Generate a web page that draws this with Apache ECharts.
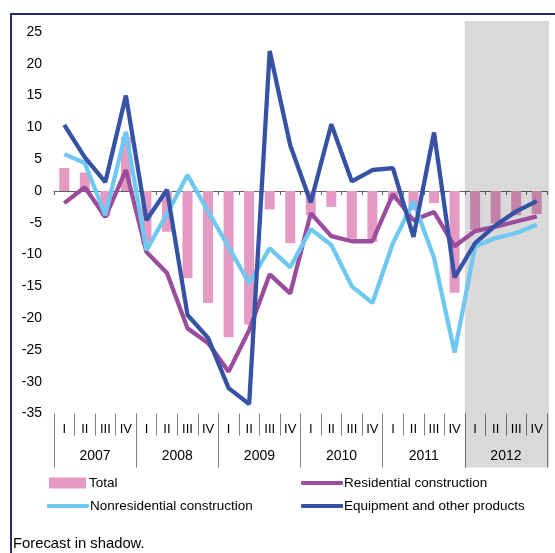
<!DOCTYPE html>
<html>
<head>
<meta charset="utf-8">
<script src="https://cdn.jsdelivr.net/npm/echarts@6/dist/echarts.min.js"></script>
<style>
html,body{margin:0;padding:0;background:#fff;}
#chart{width:555px;height:553px;}
</style>
</head>
<body>
<div id="chart"></div>
<script>
// ---- data ----
var quarters = ['I','II','III','IV','I','II','III','IV','I','II','III','IV','I','II','III','IV','I','II','III','IV','I','II','III','IV'];
var years = ['2007','2008','2009','2010','2011','2012'];
var yTicks = {min: -35, max: 25, interval: 5};
var total = [3.6, 2.9, -4.0, 8.5, -8.5, -6.4, -13.7, -17.6, -23.0, -21.0, -2.9, -8.2, -3.8, -2.5, -7.5, -8.0, -1.5, -3.0, -1.9, -16.0, -6.1, -5.1, -3.8, -3.6];
var residential = [-1.9, 0.6, -4.1, 3.3, -9.6, -12.9, -21.6, -23.9, -28.4, -21.9, -13.1, -16.1, -3.5, -7.1, -7.9, -7.9, -0.5, -4.6, -3.3, -8.7, -6.3, -5.6, -4.8, -4.0];
var nonresidential = [5.8, 4.4, -3.8, 9.3, -9.3, -3.6, 2.5, -3.2, -8.8, -14.5, -9.0, -12.0, -6.0, -8.5, -15.0, -17.6, -8.2, -1.7, -10.5, -25.4, -8.7, -7.4, -6.6, -5.3];
var equipment = [10.4, 5.3, 1.4, 15.0, -4.6, 0.2, -19.5, -23.1, -31.0, -33.5, 22.0, 7.2, -1.8, 10.5, 1.5, 3.3, 3.6, -7.2, 9.2, -13.6, -8.2, -5.4, -3.2, -1.6];
var forecastStart = 20; // first forecast quarter index (2012 I)
var names = ['Total','Residential construction','Nonresidential construction','Equipment and other products'];
var footnote = 'Forecast in shadow.';

var FONT = '"Liberation Sans", Arial, sans-serif';
var cats = quarters.map(function(q,i){ return years[Math.floor(i/4)] + ' ' + q; });

var chart = echarts.init(document.getElementById('chart'));
var GRID = {left: 54, top: 32, width: 493, height: 381.6};
var LEG_FS = 13.5;

function lineLegend(name, left, top) {
  return {data: [name], left: left, top: top, icon: 'roundRect', itemWidth: 42, itemHeight: 4, itemGap: 0,
    textStyle: {fontFamily: FONT, fontSize: LEG_FS, color: '#000', padding: [0,0,0,-4]}, padding: 0, selectedMode: false};
}

var option = {
  animation: false,
  backgroundColor: '#fff',
  grid: GRID,
  xAxis: [
    {type: 'category', data: cats, boundaryGap: true,
      axisLine: {onZero: true, lineStyle: {color: '#606060', width: 1}},
      axisTick: {show: true, length: 4, interval: 0, lineStyle: {color: '#606060'}},
      axisLabel: {show: false}, splitLine: {show: false}},
    {type: 'category', data: quarters.map(function(q,i){return i + '|' + q;}), position: 'bottom', boundaryGap: true,
      axisLine: {show: false, onZero: false},
      axisTick: {show: true, length: 22, interval: 0, lineStyle: {color: '#808080'}},
      axisLabel: {show: true, interval: 0, margin: 9, fontFamily: FONT, fontSize: 13, color: '#000',
        formatter: function(v){ return v.split('|')[1]; }},
      splitLine: {show: false}},
    {type: 'category', data: years, position: 'bottom', boundaryGap: true,
      axisLine: {show: false, onZero: false},
      axisTick: {show: true, length: 54, interval: 0, lineStyle: {color: '#808080'}},
      axisLabel: {show: true, interval: 0, margin: 36, fontFamily: FONT, fontSize: 14, color: '#000'},
      splitLine: {show: false}}
  ],
  yAxis: {type: 'value', min: yTicks.min, max: yTicks.max, interval: yTicks.interval,
    axisLine: {show: false}, axisTick: {show: false}, splitLine: {show: false},
    axisLabel: {margin: 12, fontFamily: FONT, fontSize: 14, color: '#000'}},
  legend: [
    {data: [names[0]], left: 49, top: 476, icon: 'rect', itemWidth: 37, itemHeight: 11, itemGap: 0, padding: 0, selectedMode: false,
      textStyle: {fontFamily: FONT, fontSize: LEG_FS, color: '#000', padding: [0,0,0,-2]}},
    lineLegend(names[1], 301, 476),
    lineLegend(names[2], 47, 499),
    lineLegend(names[3], 301, 499)
  ],
  series: [
    {name: names[0], type: 'bar', data: total, barWidth: 10, z: 1, itemStyle: {color: '#e59ac4'}},
    {name: names[1], type: 'line', data: residential, symbol: 'none', z: 5, lineStyle: {width: 4.3, color: '#9c4c9c'}, itemStyle: {color: '#9c4c9c'}},
    {name: names[2], type: 'line', data: nonresidential, symbol: 'none', z: 6, lineStyle: {width: 4.3, color: '#6ec8f0'}, itemStyle: {color: '#6ec8f0'}},
    {name: names[3], type: 'line', data: equipment, symbol: 'none', z: 7, lineStyle: {width: 4.3, color: '#3652a5'}, itemStyle: {color: '#3652a5'}}
  ]
};
chart.setOption(option);

// shadow over the forecast quarters, located through the category axis
var p0 = chart.convertToPixel({xAxisIndex: 0}, cats[forecastStart - 1]);
var p1 = chart.convertToPixel({xAxisIndex: 0}, cats[forecastStart]);
var pl = chart.convertToPixel({xAxisIndex: 0}, cats[cats.length - 1]);
var band = p1 - p0;
var x0 = (p0 + p1) / 2;
var x1 = pl + band / 2 + 2;
var yTop = chart.convertToPixel({yAxisIndex: 0}, yTicks.max) - 11;
var yBot = GRID.top + GRID.height + 54;

chart.setOption({
  graphic: [
    {type: 'rect', z: 3, shape: {x: x0, y: yTop, width: x1 - x0, height: yBot - yTop},
      style: {fill: 'rgba(0,0,0,0.15)'}, silent: true},
    {type: 'polyline', z: 10, shape: {points: [[11, 553], [11, 14], [555, 14]]},
      style: {stroke: '#262a6e', lineWidth: 2, fill: null}, silent: true},
    {type: 'text', z: 10, left: 13, top: 536, style: {text: footnote, font: '14.8px ' + FONT, fill: '#000'}}
  ]
});
</script>
</body>
</html>
